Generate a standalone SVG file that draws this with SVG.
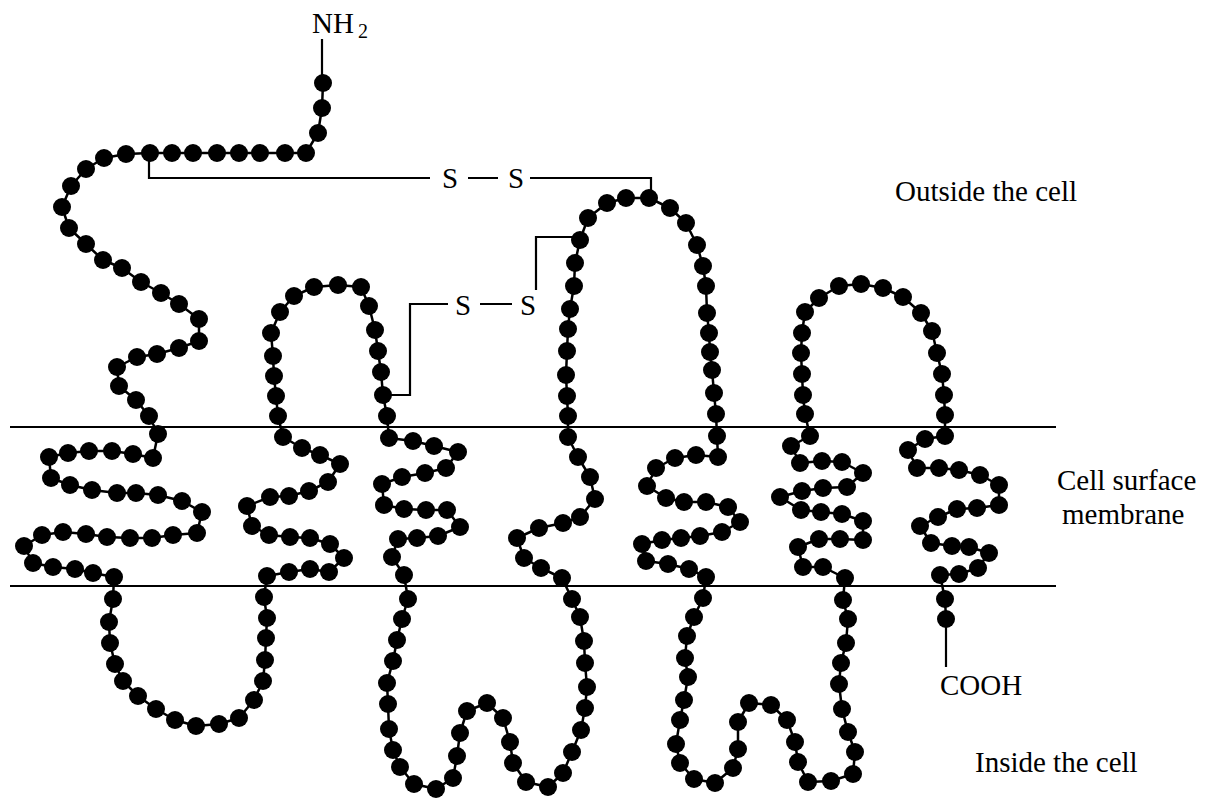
<svg xmlns="http://www.w3.org/2000/svg" width="1213" height="799" viewBox="0 0 1213 799">
<style>
text{font-family:"Liberation Serif","Times New Roman",serif;font-size:29px;fill:#000}
.ln{fill:none;stroke:#000;stroke-width:2.2}
.chain{fill:none;stroke:#000;stroke-width:2.5;stroke-linejoin:round}
#beads circle{fill:#000}
</style>
<rect width="1213" height="799" fill="#fff"/>
<g id="membrane">
<line class="ln" x1="10" y1="427" x2="1056" y2="427"/>
<line class="ln" x1="10" y1="586" x2="1056" y2="586"/>
</g>
<g id="connectors">
<path class="ln" d="M322,39 V76"/>
<path class="ln" d="M946,620 V667"/>
<path class="ln" d="M149,155 V178 H430 M468,178 H498 M530,178 H651 V198"/>
<path class="ln" d="M383,395 H410 V304 H448 M480,304 H512 M536,290 V237 H580"/>
</g>
<g id="protein">
<polyline class="chain" points="323,83 322,108 318,133 306,153 285,153 260,153 239,153 217,153 193,153 172,153 150,153 126,154 104,158 86,169 71,186 62,207 69,228 86,244 103,260 122,268 141,282 161,293 179,304 199,319 199,341 179,348 157,354 137,357 117,367 119,386 136,400 149,416 158,434 153,458 133,454 112,451 89,451 68,453 49,457 51,478 70,485 92,490 117,493 136,493 158,495 182,501 202,512 197,533 173,535 152,538 130,538 107,537 86,534 63,532 42,535 24,546 33,563 53,567 75,569 93,573 114,577 113,599 109,622 110,643 115,664 123,681 138,696 156,709 175,720 196,726 219,724 239,718 254,700 263,681 265,660 266,638 267,618 264,597 267,576 289,572 310,569 329,572 344,558 330,544 310,538 290,537 269,535 252,526 247,506 270,497 289,496 309,491 328,482 340,464 320,455 302,448 283,437 278,416 276,396 274,376 273,356 271,333 280,312 294,296 314,287 338,285 361,287 369,306 375,330 378,351 381,372 383,395 387,416 389,438 413,441 434,446 458,452 446,468 425,473 402,477 382,484 384,505 404,509 426,510 447,510 460,527 438,536 417,538 398,539 392,557 404,575 408,599 402,619 397,640 393,661 387,683 388,704 389,729 393,750 400,767 414,784 436,789 453,778 457,756 460,733 467,711 487,703 503,718 510,742 513,763 526,782 548,787 563,773 572,752 581,730 585,708 587,687 585,663 584,641 580,617 572,599 562,578 541,568 524,558 517,538 539,528 563,523 580,517 595,499 590,477 578,457 568,437 568,416 567,396 566,375 567,351 568,329 570,309 574,286 575,263 580,240 588,218 607,203 626,198 649,198 670,208 686,223 697,245 703,266 706,286 707,313 709,333 710,352 712,370 714,393 716,414 717,436 718,457 696,455 675,458 656,468 647,486 666,498 684,502 706,502 728,507 740,522 722,532 700,536 681,538 662,540 642,544 646,561 668,564 689,569 706,577 703,598 694,617 687,636 685,658 688,677 684,700 680,720 676,744 680,763 694,779 715,783 733,768 738,749 738,722 749,703 771,705 787,720 795,742 798,762 808,782 831,781 853,774 855,752 848,732 842,709 839,684 841,663 846,643 848,619 843,600 845,578 823,567 803,567 798,547 819,539 840,539 863,540 863,521 842,514 821,512 801,510 780,497 802,491 823,488 847,487 863,473 842,462 822,461 800,463 791,446 810,436 805,414 803,395 802,374 801,353 802,333 805,312 819,298 839,286 861,284 883,288 903,297 921,313 932,331 937,353 942,374 944,395 945,415 945,436 925,439 908,450 917,468 939,468 959,470 980,475 999,485 999,505 977,508 957,509 938,517 920,526 931,543 952,546 969,547 989,553 978,568 959,574 940,575 945,599 946,619"/>
<g id="beads">
<circle cx="323" cy="83" r="9"/><circle cx="322" cy="108" r="9"/><circle cx="318" cy="133" r="9"/><circle cx="306" cy="153" r="9"/><circle cx="285" cy="153" r="9"/><circle cx="260" cy="153" r="9"/><circle cx="239" cy="153" r="9"/><circle cx="217" cy="153" r="9"/><circle cx="193" cy="153" r="9"/><circle cx="172" cy="153" r="9"/><circle cx="150" cy="153" r="9"/><circle cx="126" cy="154" r="9"/><circle cx="104" cy="158" r="9"/><circle cx="86" cy="169" r="9"/><circle cx="71" cy="186" r="9"/><circle cx="62" cy="207" r="9"/><circle cx="69" cy="228" r="9"/><circle cx="86" cy="244" r="9"/><circle cx="103" cy="260" r="9"/><circle cx="122" cy="268" r="9"/><circle cx="141" cy="282" r="9"/><circle cx="161" cy="293" r="9"/><circle cx="179" cy="304" r="9"/><circle cx="199" cy="319" r="9"/><circle cx="199" cy="341" r="9"/><circle cx="179" cy="348" r="9"/><circle cx="157" cy="354" r="9"/><circle cx="137" cy="357" r="9"/><circle cx="117" cy="367" r="9"/><circle cx="119" cy="386" r="9"/><circle cx="136" cy="400" r="9"/><circle cx="149" cy="416" r="9"/><circle cx="158" cy="434" r="9"/><circle cx="153" cy="458" r="9"/><circle cx="133" cy="454" r="9"/><circle cx="112" cy="451" r="9"/><circle cx="89" cy="451" r="9"/><circle cx="68" cy="453" r="9"/><circle cx="49" cy="457" r="9"/><circle cx="51" cy="478" r="9"/><circle cx="70" cy="485" r="9"/><circle cx="92" cy="490" r="9"/><circle cx="117" cy="493" r="9"/><circle cx="136" cy="493" r="9"/><circle cx="158" cy="495" r="9"/><circle cx="182" cy="501" r="9"/><circle cx="202" cy="512" r="9"/><circle cx="197" cy="533" r="9"/><circle cx="173" cy="535" r="9"/><circle cx="152" cy="538" r="9"/><circle cx="130" cy="538" r="9"/><circle cx="107" cy="537" r="9"/><circle cx="86" cy="534" r="9"/><circle cx="63" cy="532" r="9"/><circle cx="42" cy="535" r="9"/><circle cx="24" cy="546" r="9"/><circle cx="33" cy="563" r="9"/><circle cx="53" cy="567" r="9"/><circle cx="75" cy="569" r="9"/><circle cx="93" cy="573" r="9"/><circle cx="114" cy="577" r="9"/><circle cx="113" cy="599" r="9"/><circle cx="109" cy="622" r="9"/><circle cx="110" cy="643" r="9"/><circle cx="115" cy="664" r="9"/><circle cx="123" cy="681" r="9"/><circle cx="138" cy="696" r="9"/><circle cx="156" cy="709" r="9"/><circle cx="175" cy="720" r="9"/><circle cx="196" cy="726" r="9"/><circle cx="219" cy="724" r="9"/><circle cx="239" cy="718" r="9"/><circle cx="254" cy="700" r="9"/><circle cx="263" cy="681" r="9"/><circle cx="265" cy="660" r="9"/><circle cx="266" cy="638" r="9"/><circle cx="267" cy="618" r="9"/><circle cx="264" cy="597" r="9"/><circle cx="267" cy="576" r="9"/><circle cx="289" cy="572" r="9"/><circle cx="310" cy="569" r="9"/><circle cx="329" cy="572" r="9"/><circle cx="344" cy="558" r="9"/><circle cx="330" cy="544" r="9"/><circle cx="310" cy="538" r="9"/><circle cx="290" cy="537" r="9"/><circle cx="269" cy="535" r="9"/><circle cx="252" cy="526" r="9"/><circle cx="247" cy="506" r="9"/><circle cx="270" cy="497" r="9"/><circle cx="289" cy="496" r="9"/><circle cx="309" cy="491" r="9"/><circle cx="328" cy="482" r="9"/><circle cx="340" cy="464" r="9"/><circle cx="320" cy="455" r="9"/><circle cx="302" cy="448" r="9"/><circle cx="283" cy="437" r="9"/><circle cx="278" cy="416" r="9"/><circle cx="276" cy="396" r="9"/><circle cx="274" cy="376" r="9"/><circle cx="273" cy="356" r="9"/><circle cx="271" cy="333" r="9"/><circle cx="280" cy="312" r="9"/><circle cx="294" cy="296" r="9"/><circle cx="314" cy="287" r="9"/><circle cx="338" cy="285" r="9"/><circle cx="361" cy="287" r="9"/><circle cx="369" cy="306" r="9"/><circle cx="375" cy="330" r="9"/><circle cx="378" cy="351" r="9"/><circle cx="381" cy="372" r="9"/><circle cx="383" cy="395" r="9"/><circle cx="387" cy="416" r="9"/><circle cx="389" cy="438" r="9"/><circle cx="413" cy="441" r="9"/><circle cx="434" cy="446" r="9"/><circle cx="458" cy="452" r="9"/><circle cx="446" cy="468" r="9"/><circle cx="425" cy="473" r="9"/><circle cx="402" cy="477" r="9"/><circle cx="382" cy="484" r="9"/><circle cx="384" cy="505" r="9"/><circle cx="404" cy="509" r="9"/><circle cx="426" cy="510" r="9"/><circle cx="447" cy="510" r="9"/><circle cx="460" cy="527" r="9"/><circle cx="438" cy="536" r="9"/><circle cx="417" cy="538" r="9"/><circle cx="398" cy="539" r="9"/><circle cx="392" cy="557" r="9"/><circle cx="404" cy="575" r="9"/><circle cx="408" cy="599" r="9"/><circle cx="402" cy="619" r="9"/><circle cx="397" cy="640" r="9"/><circle cx="393" cy="661" r="9"/><circle cx="387" cy="683" r="9"/><circle cx="388" cy="704" r="9"/><circle cx="389" cy="729" r="9"/><circle cx="393" cy="750" r="9"/><circle cx="400" cy="767" r="9"/><circle cx="414" cy="784" r="9"/><circle cx="436" cy="789" r="9"/><circle cx="453" cy="778" r="9"/><circle cx="457" cy="756" r="9"/><circle cx="460" cy="733" r="9"/><circle cx="467" cy="711" r="9"/><circle cx="487" cy="703" r="9"/><circle cx="503" cy="718" r="9"/><circle cx="510" cy="742" r="9"/><circle cx="513" cy="763" r="9"/><circle cx="526" cy="782" r="9"/><circle cx="548" cy="787" r="9"/><circle cx="563" cy="773" r="9"/><circle cx="572" cy="752" r="9"/><circle cx="581" cy="730" r="9"/><circle cx="585" cy="708" r="9"/><circle cx="587" cy="687" r="9"/><circle cx="585" cy="663" r="9"/><circle cx="584" cy="641" r="9"/><circle cx="580" cy="617" r="9"/><circle cx="572" cy="599" r="9"/><circle cx="562" cy="578" r="9"/><circle cx="541" cy="568" r="9"/><circle cx="524" cy="558" r="9"/><circle cx="517" cy="538" r="9"/><circle cx="539" cy="528" r="9"/><circle cx="563" cy="523" r="9"/><circle cx="580" cy="517" r="9"/><circle cx="595" cy="499" r="9"/><circle cx="590" cy="477" r="9"/><circle cx="578" cy="457" r="9"/><circle cx="568" cy="437" r="9"/><circle cx="568" cy="416" r="9"/><circle cx="567" cy="396" r="9"/><circle cx="566" cy="375" r="9"/><circle cx="567" cy="351" r="9"/><circle cx="568" cy="329" r="9"/><circle cx="570" cy="309" r="9"/><circle cx="574" cy="286" r="9"/><circle cx="575" cy="263" r="9"/><circle cx="580" cy="240" r="9"/><circle cx="588" cy="218" r="9"/><circle cx="607" cy="203" r="9"/><circle cx="626" cy="198" r="9"/><circle cx="649" cy="198" r="9"/><circle cx="670" cy="208" r="9"/><circle cx="686" cy="223" r="9"/><circle cx="697" cy="245" r="9"/><circle cx="703" cy="266" r="9"/><circle cx="706" cy="286" r="9"/><circle cx="707" cy="313" r="9"/><circle cx="709" cy="333" r="9"/><circle cx="710" cy="352" r="9"/><circle cx="712" cy="370" r="9"/><circle cx="714" cy="393" r="9"/><circle cx="716" cy="414" r="9"/><circle cx="717" cy="436" r="9"/><circle cx="718" cy="457" r="9"/><circle cx="696" cy="455" r="9"/><circle cx="675" cy="458" r="9"/><circle cx="656" cy="468" r="9"/><circle cx="647" cy="486" r="9"/><circle cx="666" cy="498" r="9"/><circle cx="684" cy="502" r="9"/><circle cx="706" cy="502" r="9"/><circle cx="728" cy="507" r="9"/><circle cx="740" cy="522" r="9"/><circle cx="722" cy="532" r="9"/><circle cx="700" cy="536" r="9"/><circle cx="681" cy="538" r="9"/><circle cx="662" cy="540" r="9"/><circle cx="642" cy="544" r="9"/><circle cx="646" cy="561" r="9"/><circle cx="668" cy="564" r="9"/><circle cx="689" cy="569" r="9"/><circle cx="706" cy="577" r="9"/><circle cx="703" cy="598" r="9"/><circle cx="694" cy="617" r="9"/><circle cx="687" cy="636" r="9"/><circle cx="685" cy="658" r="9"/><circle cx="688" cy="677" r="9"/><circle cx="684" cy="700" r="9"/><circle cx="680" cy="720" r="9"/><circle cx="676" cy="744" r="9"/><circle cx="680" cy="763" r="9"/><circle cx="694" cy="779" r="9"/><circle cx="715" cy="783" r="9"/><circle cx="733" cy="768" r="9"/><circle cx="738" cy="749" r="9"/><circle cx="738" cy="722" r="9"/><circle cx="749" cy="703" r="9"/><circle cx="771" cy="705" r="9"/><circle cx="787" cy="720" r="9"/><circle cx="795" cy="742" r="9"/><circle cx="798" cy="762" r="9"/><circle cx="808" cy="782" r="9"/><circle cx="831" cy="781" r="9"/><circle cx="853" cy="774" r="9"/><circle cx="855" cy="752" r="9"/><circle cx="848" cy="732" r="9"/><circle cx="842" cy="709" r="9"/><circle cx="839" cy="684" r="9"/><circle cx="841" cy="663" r="9"/><circle cx="846" cy="643" r="9"/><circle cx="848" cy="619" r="9"/><circle cx="843" cy="600" r="9"/><circle cx="845" cy="578" r="9"/><circle cx="823" cy="567" r="9"/><circle cx="803" cy="567" r="9"/><circle cx="798" cy="547" r="9"/><circle cx="819" cy="539" r="9"/><circle cx="840" cy="539" r="9"/><circle cx="863" cy="540" r="9"/><circle cx="863" cy="521" r="9"/><circle cx="842" cy="514" r="9"/><circle cx="821" cy="512" r="9"/><circle cx="801" cy="510" r="9"/><circle cx="780" cy="497" r="9"/><circle cx="802" cy="491" r="9"/><circle cx="823" cy="488" r="9"/><circle cx="847" cy="487" r="9"/><circle cx="863" cy="473" r="9"/><circle cx="842" cy="462" r="9"/><circle cx="822" cy="461" r="9"/><circle cx="800" cy="463" r="9"/><circle cx="791" cy="446" r="9"/><circle cx="810" cy="436" r="9"/><circle cx="805" cy="414" r="9"/><circle cx="803" cy="395" r="9"/><circle cx="802" cy="374" r="9"/><circle cx="801" cy="353" r="9"/><circle cx="802" cy="333" r="9"/><circle cx="805" cy="312" r="9"/><circle cx="819" cy="298" r="9"/><circle cx="839" cy="286" r="9"/><circle cx="861" cy="284" r="9"/><circle cx="883" cy="288" r="9"/><circle cx="903" cy="297" r="9"/><circle cx="921" cy="313" r="9"/><circle cx="932" cy="331" r="9"/><circle cx="937" cy="353" r="9"/><circle cx="942" cy="374" r="9"/><circle cx="944" cy="395" r="9"/><circle cx="945" cy="415" r="9"/><circle cx="945" cy="436" r="9"/><circle cx="925" cy="439" r="9"/><circle cx="908" cy="450" r="9"/><circle cx="917" cy="468" r="9"/><circle cx="939" cy="468" r="9"/><circle cx="959" cy="470" r="9"/><circle cx="980" cy="475" r="9"/><circle cx="999" cy="485" r="9"/><circle cx="999" cy="505" r="9"/><circle cx="977" cy="508" r="9"/><circle cx="957" cy="509" r="9"/><circle cx="938" cy="517" r="9"/><circle cx="920" cy="526" r="9"/><circle cx="931" cy="543" r="9"/><circle cx="952" cy="546" r="9"/><circle cx="969" cy="547" r="9"/><circle cx="989" cy="553" r="9"/><circle cx="978" cy="568" r="9"/><circle cx="959" cy="574" r="9"/><circle cx="940" cy="575" r="9"/><circle cx="945" cy="599" r="9"/><circle cx="946" cy="619" r="9"/>
</g>
</g>
<g id="labels">
<text x="312" y="33">NH<tspan x="358" y="38" font-size="20">2</tspan></text>
<text x="442" y="188">S</text>
<text x="508" y="188">S</text>
<text x="455" y="315">S</text>
<text x="520" y="315">S</text>
<text x="895" y="201">Outside the cell</text>
<text x="1057" y="490">Cell surface</text>
<text x="1062" y="524">membrane</text>
<text x="940" y="695">COOH</text>
<text x="975" y="772">Inside the cell</text>
</g>
</svg>
